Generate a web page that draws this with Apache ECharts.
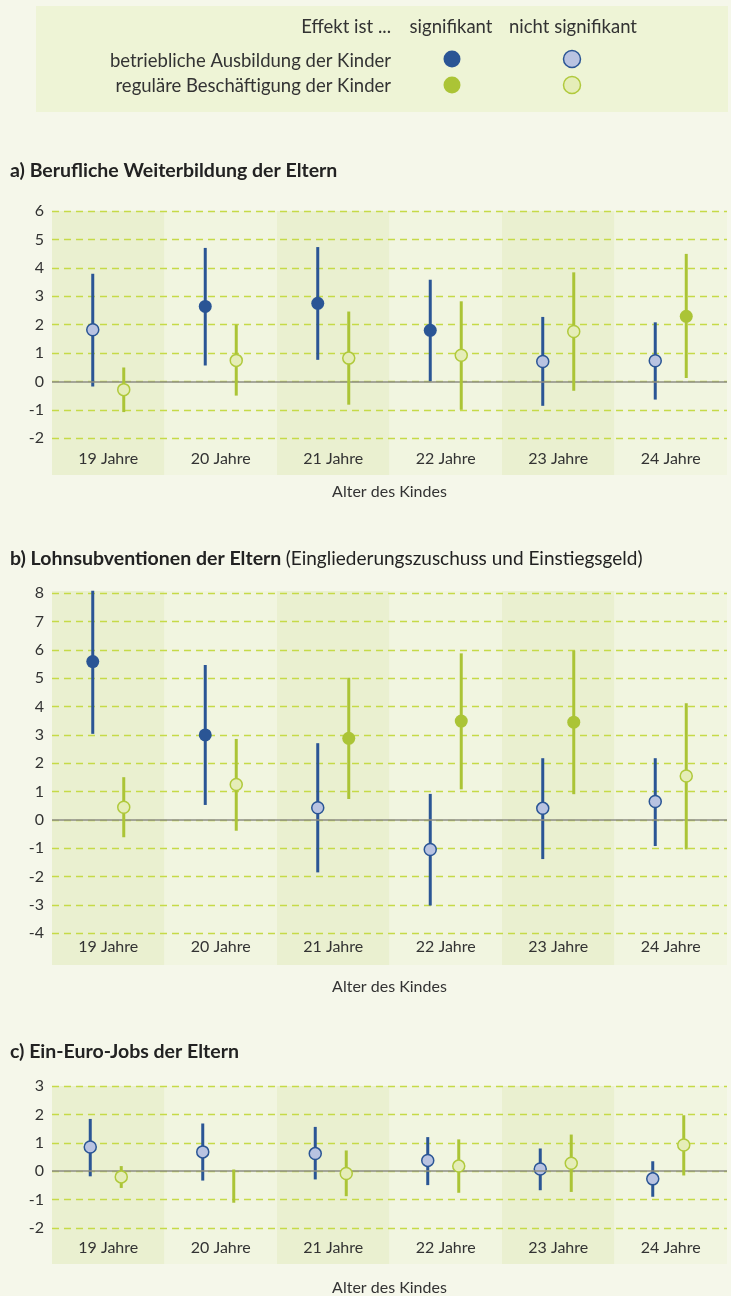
<!DOCTYPE html>
<html>
<head>
<meta charset="utf-8">
<script src="https://cdn.jsdelivr.net/npm/echarts@6/dist/echarts.min.js"></script>
<style>
  html, body { margin: 0; padding: 0; background: #f5f7ea; }
  #chart { width: 731px; height: 1296px; }
</style>
</head>
<body>
<div id="chart"></div>
<script>
// ---------- data ----------
const categories = ['19 Jahre', '20 Jahre', '21 Jahre', '22 Jahre', '23 Jahre', '24 Jahre'];
const xAxisTitle = 'Alter des Kindes';

// y axis ranges [min, max]
const rangeA = [-2, 6];
const rangeB = [-4, 8];
const rangeC = [-2, 3];

// a) Berufliche Weiterbildung der Eltern
const a_ausb_est = [1.82, 2.64, 2.75, 1.80, 0.70, 0.73];
const a_ausb_lo  = [-0.18, 0.56, 0.76, 0.00, -0.86, -0.64];
const a_ausb_hi  = [3.79, 4.70, 4.73, 3.58, 2.27, 2.08];
const a_ausb_sig = [0, 1, 1, 1, 0, 0];
const a_besch_est = [-0.29, 0.74, 0.82, 0.92, 1.76, 2.29];
const a_besch_lo  = [-1.08, -0.50, -0.82, -1.00, -0.33, 0.12];
const a_besch_hi  = [0.49, 2.00, 2.46, 2.82, 3.84, 4.49];
const a_besch_sig = [0, 0, 0, 0, 0, 1];

// b) Lohnsubventionen der Eltern
const b_ausb_est = [5.59, 3.00, 0.43, -1.04, 0.41, 0.65];
const b_ausb_lo  = [3.04, 0.53, -1.85, -3.02, -1.38, -0.92];
const b_ausb_hi  = [8.09, 5.47, 2.71, 0.92, 2.18, 2.18];
const b_ausb_sig = [1, 1, 0, 0, 0, 0];
const b_besch_est = [0.45, 1.25, 2.88, 3.49, 3.45, 1.55];
const b_besch_lo  = [-0.61, -0.38, 0.74, 1.08, 0.91, -1.04];
const b_besch_hi  = [1.51, 2.86, 5.02, 5.88, 5.98, 4.12];
const b_besch_sig = [0, 0, 1, 1, 1, 0];

// c) Ein-Euro-Jobs der Eltern
const c_ausb_est = [0.85, 0.68, 0.62, 0.38, 0.08, -0.27];
const c_ausb_lo  = [-0.18, -0.33, -0.29, -0.49, -0.67, -0.90];
const c_ausb_hi  = [1.84, 1.68, 1.56, 1.20, 0.80, 0.35];
const c_ausb_sig = [0, 0, 0, 0, 0, 0];
const c_besch_est = [-0.20, null, -0.08, 0.18, 0.28, 0.92];
const c_besch_lo  = [-0.59, -1.11, -0.88, -0.76, -0.73, -0.15];
const c_besch_hi  = [0.18, 0.06, 0.73, 1.12, 1.29, 1.97];
const c_besch_sig = [0, 0, 0, 0, 0, 0];

// ---------- styling ----------
const FONT = 'Lato';
const TXT = '#333333';
const BLUE = '#2a5595', BLUE_LIGHT = '#b9c3e1';
const GREEN = '#abc436', GREEN_LIGHT = '#e5edb8', GREEN_STROKE = '#b0c93c';
const BAND_DARK = '#eaf0d0', BAND_LIGHT = '#f1f5e0';
const GRIDLINE = '#c6da48';
const ZERO = '#8c8c84';
const AXIS_FS = 16, LEGEND_FS = 18.5, TITLE_FS = 19.5, SUBTITLE_FS = 19;

function rows(est, lo, hi, sig) {
  return categories.map((c, i) => [i, est[i] == null ? NaN : est[i], lo[i], hi[i], sig[i]]);
}

function makeRender(offset, color, lightFill, lightStroke) {
  return function (params, api) {
    const cat = api.value(0);
    const est = api.value(1), lo = api.value(2), hi = api.value(3), sig = api.value(4);
    const pLo = api.coord([cat, lo]);
    const pHi = api.coord([cat, hi]);
    const x = pLo[0] + offset;
    const children = [{
      type: 'line',
      shape: { x1: x, y1: pLo[1], x2: x, y2: pHi[1] },
      style: { stroke: color, lineWidth: 3, lineCap: 'butt' }
    }];
    if (est !== null && !isNaN(est)) {
      const pE = api.coord([cat, est]);
      children.push({
        type: 'circle',
        shape: { cx: x, cy: pE[1], r: sig ? 6.5 : 6 },
        style: sig ? { fill: color } : { fill: lightFill, stroke: lightStroke, lineWidth: 1.5 }
      });
    }
    return { type: 'group', children: children };
  };
}

// layout
const LEFT = 52, WIDTH = 675;
const panels = [
  { top: 211, height: 227.2, range: rangeA, bandTop: 211, bandH: 264, labelMargin: 13, axisTitleY: 492,
    off: [-15.5, 15.5],
    ausb: rows(a_ausb_est, a_ausb_lo, a_ausb_hi, a_ausb_sig),
    besch: rows(a_besch_est, a_besch_lo, a_besch_hi, a_besch_sig) },
  { top: 593.3, height: 340, range: rangeB, bandTop: 591, bandH: 374, labelMargin: 6, axisTitleY: 987,
    off: [-15.5, 15.5],
    ausb: rows(b_ausb_est, b_ausb_lo, b_ausb_hi, b_ausb_sig),
    besch: rows(b_besch_est, b_besch_lo, b_besch_hi, b_besch_sig) },
  { top: 1086, height: 142, range: rangeC, bandTop: 1086, bandH: 178, labelMargin: 12, axisTitleY: 1288,
    off: [-18, 13],
    ausb: rows(c_ausb_est, c_ausb_lo, c_ausb_hi, c_ausb_sig),
    besch: rows(c_besch_est, c_besch_lo, c_besch_hi, c_besch_sig) }
];

const grid = [], xAxis = [], yAxis = [], series = [];
panels.forEach((p, k) => {
  grid.push({ left: LEFT, width: WIDTH, top: p.top, height: p.height });
  xAxis.push({
    type: 'category', gridIndex: k, data: categories, boundaryGap: true,
    axisLine: { show: false }, axisTick: { show: false }, splitLine: { show: false },
    axisLabel: { color: TXT, fontSize: AXIS_FS, fontFamily: FONT, margin: p.labelMargin },
    z: 3
  });
  yAxis.push({
    type: 'value', gridIndex: k, min: p.range[0], max: p.range[1], interval: 1,
    axisLine: { show: false }, axisTick: { show: false },
    axisLabel: { color: TXT, fontSize: AXIS_FS, fontFamily: FONT, margin: 8 },
    splitLine: { show: true, lineStyle: { color: GRIDLINE, type: [7, 5], width: 1.4 } },
    z: 2
  });
});
// band grids
panels.forEach((p, k) => {
  grid.push({ left: LEFT, width: WIDTH, top: p.bandTop, height: p.bandH });
  xAxis.push({ type: 'category', gridIndex: 3 + k, data: categories, show: false, boundaryGap: true });
  yAxis.push({ type: 'value', gridIndex: 3 + k, min: 0, max: 1, show: false });
  series.push({
    type: 'bar', xAxisIndex: 3 + k, yAxisIndex: 3 + k, barWidth: '100%', silent: true, z: 1,
    data: categories.map((c, i) => ({ value: 1, itemStyle: { color: i % 2 === 0 ? BAND_DARK : BAND_LIGHT } })),
    animation: false
  });
});
panels.forEach((p, k) => {
  series.push({
    type: 'custom', xAxisIndex: k, yAxisIndex: k, z: 4,
    renderItem: makeRender(p.off[0], BLUE, BLUE_LIGHT, BLUE),
    data: p.ausb,
    encode: { x: 0, y: [1, 2, 3] },
    markLine: {
      silent: true, symbol: 'none', label: { show: false },
      lineStyle: { color: ZERO, width: 1.5, type: 'solid' },
      data: [{ yAxis: 0 }], animation: false
    },
    animation: false
  });
  series.push({
    type: 'custom', xAxisIndex: k, yAxisIndex: k, z: 5,
    renderItem: makeRender(p.off[1], GREEN, GREEN_LIGHT, GREEN_STROKE),
    data: p.besch,
    encode: { x: 0, y: [1, 2, 3] },
    animation: false
  });
});

const titles = [
  { text: '{b|a) Berufliche Weiterbildung der Eltern}', left: 10, top: 161 },
  { text: '{b|b) Lohnsubventionen der Eltern} {n|(Eingliederungszuschuss und Einstiegsgeld)}', left: 10, top: 549 },
  { text: '{b|c) Ein-Euro-Jobs der Eltern}', left: 10, top: 1042 }
].map(t => Object.assign(t, {
  padding: 0,
  textStyle: {
    rich: {
      b: { fontFamily: FONT, fontSize: TITLE_FS, fontWeight: 'bold', color: '#222' },
      n: { fontFamily: FONT, fontSize: SUBTITLE_FS, fontWeight: 'normal', color: '#222' }
    }
  }
}));

function txt(text, x, y, align, size) {
  return { type: 'text', silent: true, z: 10,
    style: { text: text, x: x, y: y, textAlign: align, textVerticalAlign: 'middle',
      font: (size || LEGEND_FS) + 'px ' + FONT, fill: TXT } };
}
function dot(x, y, fill, stroke) {
  return { type: 'circle', silent: true, z: 10, shape: { cx: x, cy: y, r: 8.5 },
    style: stroke ? { fill: fill, stroke: stroke, lineWidth: 1.5 } : { fill: fill } };
}

const graphic = [
  { type: 'rect', silent: true, z: 0, shape: { x: 36, y: 6, width: 692, height: 106 }, style: { fill: '#eef4d6' } },
  txt('Effekt ist ...', 391, 27, 'right'),
  txt('signifikant', 451, 27, 'center'),
  txt('nicht signifikant', 573, 27, 'center'),
  txt('betriebliche Ausbildung der Kinder', 391, 61, 'right'),
  txt('reguläre Beschäftigung der Kinder', 391, 86, 'right'),
  dot(452, 59, BLUE),
  dot(572, 59, BLUE_LIGHT, BLUE),
  dot(452, 85, GREEN),
  dot(572, 85, GREEN_LIGHT, GREEN_STROKE)
];
panels.forEach(p => graphic.push(txt(xAxisTitle, LEFT + WIDTH / 2, p.axisTitleY, 'center', AXIS_FS)));

const chart = echarts.init(document.getElementById('chart'), null, { renderer: 'canvas' });
chart.setOption({
  backgroundColor: '#f5f7ea',
  animation: false,
  textStyle: { fontFamily: FONT },
  title: titles,
  grid: grid,
  xAxis: xAxis,
  yAxis: yAxis,
  series: series,
  graphic: graphic
});
</script>
</body>
</html>
